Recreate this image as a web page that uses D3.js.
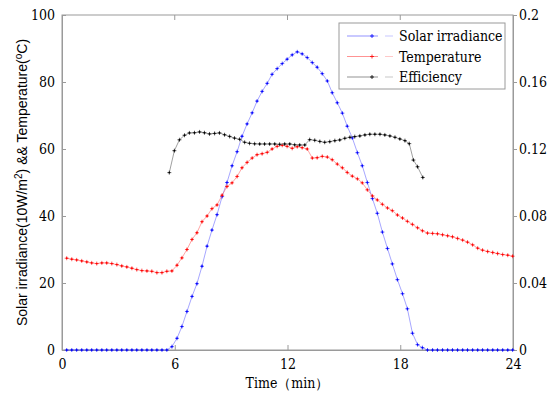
<!DOCTYPE html>
<html>
<head>
<meta charset="utf-8">
<script src="https://cdn.jsdelivr.net/npm/d3@7"></script>
<style>
  body { margin: 0; background: #fff; }
  text { fill: #000; }
  svg text.serif, svg .tick text { font-family: "DejaVu Serif Condensed", "DejaVu Serif", serif; font-stretch: condensed; font-size: 14px; }
</style>
</head>
<body>
<script>
// sample times (min) shared by irradiance and temperature
const time = [0.25, 0.52, 0.78, 1.05, 1.32, 1.58, 1.85, 2.12, 2.38, 2.65,
  2.92, 3.18, 3.45, 3.72, 3.98, 4.25, 4.52, 4.78, 5.05, 5.32,
  5.58, 5.85, 6.12, 6.38, 6.65, 6.92, 7.18, 7.45, 7.72, 7.98,
  8.25, 8.52, 8.78, 9.05, 9.32, 9.58, 9.85, 10.12, 10.38, 10.65,
  10.92, 11.18, 11.45, 11.72, 11.98, 12.25, 12.52, 12.78, 13.05, 13.32,
  13.58, 13.85, 14.12, 14.38, 14.65, 14.92, 15.18, 15.45, 15.72, 15.98,
  16.25, 16.52, 16.78, 17.05, 17.32, 17.58, 17.85, 18.12, 18.38, 18.65,
  18.92, 19.18, 19.45, 19.72, 19.98, 20.25, 20.52, 20.78, 21.05, 21.32,
  21.58, 21.85, 22.12, 22.38, 22.65, 22.92, 23.18, 23.45, 23.72, 23.98];

// solar irradiance (10 W/m2)
const irradiance = [0, 0, 0, 0, 0, 0, 0, 0, 0, 0,
  0, 0, 0, 0, 0, 0, 0, 0, 0, 0,
  0, 1.0, 3.5, 7.0, 11.5, 16.0, 19.8, 25.0, 31.0, 35.8,
  40.4, 45.8, 50.0, 55.0, 59.2, 63.8, 67.5, 70.8, 74.3, 77.2,
  79.6, 82.3, 84.0, 85.5, 86.8, 88.1, 89.0, 88.4, 87.3, 85.8,
  84.4, 82.5, 80.3, 76.8, 73.8, 70.7, 66.8, 63.3, 58.9, 55.0,
  50.0, 45.2, 40.8, 35.2, 30.3, 25.7, 21.0, 16.8, 12.3, 5.0,
  1.6, 0.7, 0, 0, 0, 0, 0, 0, 0, 0,
  0, 0, 0, 0, 0, 0, 0, 0, 0, 0];

// temperature (°C)
const temperature = [27.4, 27.1, 26.9, 26.6, 26.3, 26.0, 25.8, 26.0, 26.0, 25.8,
  25.5, 25.1, 24.8, 24.4, 24.0, 23.7, 23.6, 23.5, 23.1, 23.1,
  23.5, 23.6, 25.3, 27.5, 30.0, 33.0, 35.0, 38.3, 40.0, 42.2,
  43.3, 46.2, 48.8, 49.9, 51.8, 54.4, 56.0, 57.3, 58.3, 58.6,
  59.0, 60.0, 60.8, 61.1, 60.8, 60.2, 60.7, 60.4, 60.0, 57.3,
  57.4, 57.8, 57.6, 56.8, 55.5, 54.4, 53.0, 51.9, 51.1, 49.9,
  47.8, 46.0, 44.8, 43.5, 42.4, 41.6, 40.3, 39.4, 38.4, 37.5,
  36.5, 35.6, 34.9, 34.8, 34.7, 34.4, 34.1, 33.8, 33.3, 32.8,
  32.2, 31.4, 30.4, 29.8, 29.4, 29.1, 28.8, 28.5, 28.3, 28.0];

// efficiency (right axis)
const effTime = [5.71, 5.98, 6.25, 6.52, 6.78, 7.05, 7.32, 7.58, 7.85, 8.12,
  8.38, 8.65, 8.92, 9.18, 9.45, 9.72, 9.98, 10.25, 10.52, 10.78,
  11.05, 11.32, 11.58, 11.85, 12.12, 12.38, 12.65, 12.92, 13.18, 13.45,
  13.72, 13.98, 14.25, 14.52, 14.78, 15.05, 15.32, 15.58, 15.85, 16.12,
  16.38, 16.65, 16.92, 17.18, 17.45, 17.72, 17.98, 18.25, 18.48, 18.7,
  18.92, 19.2];
const efficiency = [0.1059, 0.1190, 0.1255, 0.1282, 0.1296, 0.1297, 0.1302, 0.1297, 0.1290, 0.1293,
  0.1296, 0.1285, 0.1275, 0.1265, 0.1258, 0.1240, 0.1234, 0.1231, 0.1230, 0.1230,
  0.1230, 0.1230, 0.1228, 0.1230, 0.1230, 0.1225, 0.1224, 0.1224, 0.1256, 0.1252,
  0.1245, 0.1240, 0.1244, 0.1250, 0.1254, 0.1264, 0.1270, 0.1274, 0.1278, 0.1284,
  0.1288, 0.1288, 0.1288, 0.1284, 0.1278, 0.1270, 0.1260, 0.1250, 0.1232, 0.1134,
  0.1094, 0.1030];

const xTicks = [0, 6, 12, 18, 24];
const yLeftTicks = [0, 20, 40, 60, 80, 100];
const yRightTicks = [0, 0.04, 0.08, 0.12, 0.16, 0.2];
const legendNames = ["Solar irradiance", "Temperature", "Efficiency"];
const legendColors = ["#0000ff", "#ff0000", "#000000"];

const width = 550;
const height = 394;
const margin = { top: 15, right: 37, bottom: 44, left: 62 };
const axisColor = "#9a9a9a";

const x = d3.scaleLinear().domain([0, 24]).range([margin.left, width - margin.right]);
const yL = d3.scaleLinear().domain([0, 100]).range([height - margin.bottom, margin.top]);
const yR = d3.scaleLinear().domain([0, 0.2]).range([height - margin.bottom, margin.top]);

let svg = d3.select("body")
  .append("svg")
  .attr("width", width)
  .attr("height", height);

// box
svg.append("rect")
  .attr("x", x(0)).attr("y", yL(100))
  .attr("width", x(24) - x(0)).attr("height", yL(0) - yL(100))
  .attr("fill", "none").attr("stroke", axisColor).attr("stroke-width", 1);

// bottom axis (ticks inward)
let xAxis = svg.append("g")
  .attr("transform", "translate(0," + yL(0) + ")")
  .call(d3.axisBottom(x).tickValues(xTicks).tickSize(-5).tickPadding(9).tickFormat(d3.format("d")));

// left axis
let yAxisL = svg.append("g")
  .attr("transform", "translate(" + x(0) + ",0)")
  .call(d3.axisLeft(yL).tickValues(yLeftTicks).tickSize(-4).tickPadding(7));

// right axis
let yAxisR = svg.append("g")
  .attr("transform", "translate(" + x(24) + ",0)")
  .call(d3.axisRight(yR).tickValues(yRightTicks).tickSize(4).tickPadding(2)
    .tickFormat(d => d === 0 ? "0" : String(+d.toFixed(2))));

[xAxis, yAxisL, yAxisR].forEach(g => {
  g.attr("font-family", null).attr("font-size", null);
  g.select(".domain").attr("stroke", axisColor);
  g.selectAll(".tick line").attr("stroke", axisColor);
  g.selectAll(".tick text").attr("fill", "#000");
});

// top ticks
svg.selectAll(".toptick")
  .data(xTicks.slice(1, -1))
  .enter()
  .append("line")
  .attr("x1", d => x(d)).attr("x2", d => x(d))
  .attr("y1", yL(100)).attr("y2", yL(100) + 5)
  .attr("stroke", axisColor);

const plusPath = "M-2,0H2M0,-2V2";

function drawSeries(ts, vs, yScale, color, lineColor) {
  const pts = ts.map((t, i) => [t, vs[i]]);
  const line = d3.line().x(d => x(d[0])).y(d => yScale(d[1]));
  svg.append("path")
    .datum(pts)
    .attr("d", line)
    .attr("fill", "none")
    .attr("stroke", lineColor)
    .attr("stroke-width", 0.6);
  let g = svg.append("g");
  g.selectAll("path")
    .data(pts)
    .enter()
    .append("path")
    .attr("d", plusPath)
    .attr("transform", d => "translate(" + x(d[0]) + "," + yScale(d[1]) + ")")
    .attr("stroke", color)
    .attr("stroke-width", 0.8)
    .attr("opacity", 0.8);
  g.selectAll("circle")
    .data(pts)
    .enter()
    .append("circle")
    .attr("cx", d => x(d[0]))
    .attr("cy", d => yScale(d[1]))
    .attr("r", 0.9)
    .attr("fill", color);
}

drawSeries(time, irradiance, yL, "#0000ff", "#6a6aff");
drawSeries(time, temperature, yL, "#ff0000", "#ff6a6a");
drawSeries(effTime, efficiency, yR, "#000000", "#606060");

// legend
let legend = svg.append("g");
legend.append("rect")
  .attr("x", 339).attr("y", 23)
  .attr("width", 166).attr("height", 66)
  .attr("fill", "#fff").attr("stroke", axisColor);

legendNames.forEach((name, i) => {
  const cy = 36 + i * 20.5;
  legend.append("line")
    .attr("x1", 347).attr("x2", 378).attr("y1", cy).attr("y2", cy)
    .attr("stroke", legendColors[i]).attr("stroke-width", 0.7).attr("opacity", 0.6);
  legend.append("path")
    .attr("d", plusPath)
    .attr("transform", "translate(372," + cy + ")")
    .attr("stroke", legendColors[i]).attr("stroke-width", 0.8);
  legend.append("line")
    .attr("x1", 385).attr("x2", 393).attr("y1", cy).attr("y2", cy)
    .attr("stroke", legendColors[i]).attr("stroke-width", 0.7).attr("opacity", 0.3);
  legend.append("text")
    .attr("class", "serif")
    .attr("x", 399).attr("y", cy + 5)
    .text(name);
});

// x label
svg.append("text")
  .attr("class", "serif")
  .attr("x", (x(0) + x(24)) / 2)
  .attr("y", 388)
  .attr("text-anchor", "middle")
  .text("Time（min）");

// y label
let yLabel = svg.append("text")
  .attr("transform", "translate(27," + ((yL(0) + yL(100)) / 2) + ") rotate(-90)")
  .attr("text-anchor", "middle")
  .style("font-family", "'Liberation Sans', Arial, sans-serif").style("font-size", "14px");
yLabel.append("tspan").text("Solar irradiance(10W/m");
yLabel.append("tspan").attr("dy", -5).style("font-size", "10px").text("2");
yLabel.append("tspan").attr("dy", 5).text(") && Temperature(");
yLabel.append("tspan").attr("dy", -5).style("font-size", "10px").text("o");
yLabel.append("tspan").attr("dy", 5).text("C)");
</script>
</body>
</html>
